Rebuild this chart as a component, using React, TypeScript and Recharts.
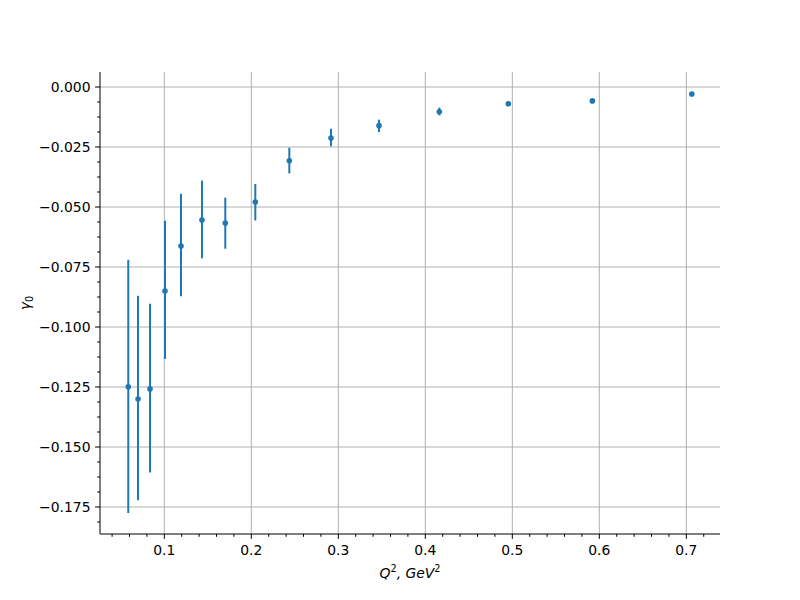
import { CartesianGrid, ErrorBar, Scatter, ScatterChart, XAxis, YAxis } from "recharts";

// Q^2 in GeV^2
const Q2 = [0.0586, 0.0698, 0.0836, 0.1008, 0.1192, 0.1433, 0.1701, 0.2046, 0.2437, 0.2916, 0.3468, 0.4161, 0.4954, 0.592, 0.7063];
// gamma_0 central values
const GAMMA0 = [-0.1249, -0.13, -0.1258, -0.085, -0.0663, -0.0554, -0.0567, -0.0479, -0.0307, -0.0213, -0.0161, -0.0103, -0.007, -0.0058, -0.0029];
// lower / upper ends of the error bars
const GAMMA0_LOW = [-0.1775, -0.1722, -0.1606, -0.1133, -0.0872, -0.0714, -0.0674, -0.0556, -0.036, -0.0247, -0.0188, -0.0118, -0.0078, -0.0063, -0.0033];
const GAMMA0_HIGH = [-0.072, -0.087, -0.0903, -0.0557, -0.0445, -0.039, -0.0461, -0.0404, -0.0253, -0.0174, -0.0136, -0.0086, -0.0062, -0.0053, -0.0025];

const X_TICKS = [0.1, 0.2, 0.3, 0.4, 0.5, 0.6, 0.7];
const X_MINOR = [0.04, 0.06, 0.08, 0.12, 0.14, 0.16, 0.18, 0.22, 0.24, 0.26, 0.28, 0.32, 0.34, 0.36, 0.38, 0.42, 0.44, 0.46, 0.48, 0.52, 0.54, 0.56, 0.58, 0.62, 0.64, 0.66, 0.68, 0.72];
const Y_TICKS = [0, -0.025, -0.05, -0.075, -0.1, -0.125, -0.15, -0.175];
const Y_MINOR = [-0.00625, -0.0125, -0.01875, -0.03125, -0.0375, -0.04375, -0.05625, -0.0625, -0.06875, -0.08125, -0.0875, -0.09375, -0.10625, -0.1125, -0.11875, -0.13125, -0.1375, -0.14375, -0.15625, -0.1625, -0.16875, -0.18125];

const X_DOMAIN = [0.0261, 0.7387];
const Y_DOMAIN = [-0.18625, 0.00625];

const BLUE = "#1f77b4";
const FONT = "DejaVu Sans, sans-serif";

const data = Q2.map((q, i) => ({
  q2: q,
  g: GAMMA0[i],
  err: [GAMMA0[i] - GAMMA0_LOW[i], GAMMA0_HIGH[i] - GAMMA0[i]],
}));

const majorX = new Set(X_TICKS.map((v) => v.toFixed(3)));
const majorY = new Set(Y_TICKS.map((v) => v.toFixed(5)));

const fmtY = (v: number) => {
  const s = Math.abs(v).toFixed(3);
  return v < -1e-9 ? "\u2212" + s : s;
};

const XTick = (props: any) => {
  const { x, y, payload } = props;
  const major = majorX.has(Number(payload.value).toFixed(3));
  return (
    <g>
      <line x1={x} x2={x} y1={y} y2={y + (major ? 4.9 : 2.8)} stroke="#000" strokeWidth={1} />
      {major && (
        <text x={x} y={y + 21} textAnchor="middle" fontSize={13.9} fontFamily={FONT} fill="#000">
          {Number(payload.value).toFixed(1)}
        </text>
      )}
    </g>
  );
};

const YTick = (props: any) => {
  const { x, y, payload } = props;
  const major = majorY.has(Number(payload.value).toFixed(5));
  return (
    <g>
      <line x1={x} x2={x - (major ? 4.9 : 2.8)} y1={y} y2={y} stroke="#000" strokeWidth={1} />
      {major && (
        <text x={x - 9.5} y={y + 5} textAnchor="end" fontSize={13.9} fontFamily={FONT} fill="#000">
          {fmtY(Number(payload.value))}
        </text>
      )}
    </g>
  );
};

const Dot = (props: any) => <circle cx={props.cx} cy={props.cy} r={2.8} fill={BLUE} />;

export default function App() {
  return (
    <div style={{ position: "absolute", left: 0, top: 0, width: 800, height: 600, background: "#fff" }}>
      <ScatterChart width={800} height={600} margin={{ top: 72, right: 80, bottom: 0, left: 0 }}>
        <CartesianGrid
          stroke="#b0b0b0"
          strokeWidth={1}
          horizontalValues={Y_TICKS}
          verticalValues={X_TICKS}
        />
        <XAxis
          type="number"
          dataKey="q2"
          domain={X_DOMAIN}
          allowDataOverflow
          ticks={[...X_MINOR, ...X_TICKS].sort((a, b) => a - b)}
          interval={0}
          height={66}
          tickSize={0}
          tickMargin={0}
          tickLine={false}
          tick={<XTick />}
          axisLine={{ stroke: "#000", strokeWidth: 1 }}
        />
        <XAxis
          xAxisId="top"
          orientation="top"
          type="number"
          dataKey="q2"
          domain={X_DOMAIN}
          allowDataOverflow
          height={0}
          tick={false}
          tickLine={false}
          axisLine={{ stroke: "#000", strokeWidth: 1 }}
        />
        <YAxis
          type="number"
          dataKey="g"
          domain={Y_DOMAIN}
          allowDataOverflow
          ticks={[...Y_MINOR, ...Y_TICKS].sort((a, b) => a - b)}
          interval={0}
          width={100}
          tickSize={0}
          tickMargin={0}
          tickLine={false}
          tick={<YTick />}
          axisLine={{ stroke: "#000", strokeWidth: 1 }}
        />
        <YAxis
          yAxisId="right"
          orientation="right"
          type="number"
          dataKey="g"
          domain={Y_DOMAIN}
          allowDataOverflow
          width={0}
          tick={false}
          tickLine={false}
          axisLine={{ stroke: "#000", strokeWidth: 1 }}
        />
        <Scatter data={data} fill={BLUE} shape={<Dot />} isAnimationActive={false}>
          <ErrorBar dataKey="err" direction="y" width={0} stroke={BLUE} strokeWidth={2} isAnimationActive={false} />
        </Scatter>
      </ScatterChart>
      <svg width={800} height={600} style={{ position: "absolute", left: 0, top: 0, pointerEvents: "none" }}>
        <text x={410} y={578} textAnchor="middle" fontSize={13.9} fontFamily={FONT} fontStyle="italic" fill="#000">
          Q<tspan dy={-6} fontSize={9.7} fontStyle="normal">2</tspan>
          <tspan dy={6}>, GeV</tspan>
          <tspan dy={-6} fontSize={9.7} fontStyle="normal">2</tspan>
        </text>
        <text
          x={0}
          y={0}
          transform="translate(30 303) rotate(-90)"
          textAnchor="middle"
          fontSize={13.9}
          fontFamily={FONT}
          fontStyle="italic"
          fill="#000"
        >
          γ<tspan dy={3} fontSize={9.7} fontStyle="normal">0</tspan>
        </text>
      </svg>
    </div>
  );
}
